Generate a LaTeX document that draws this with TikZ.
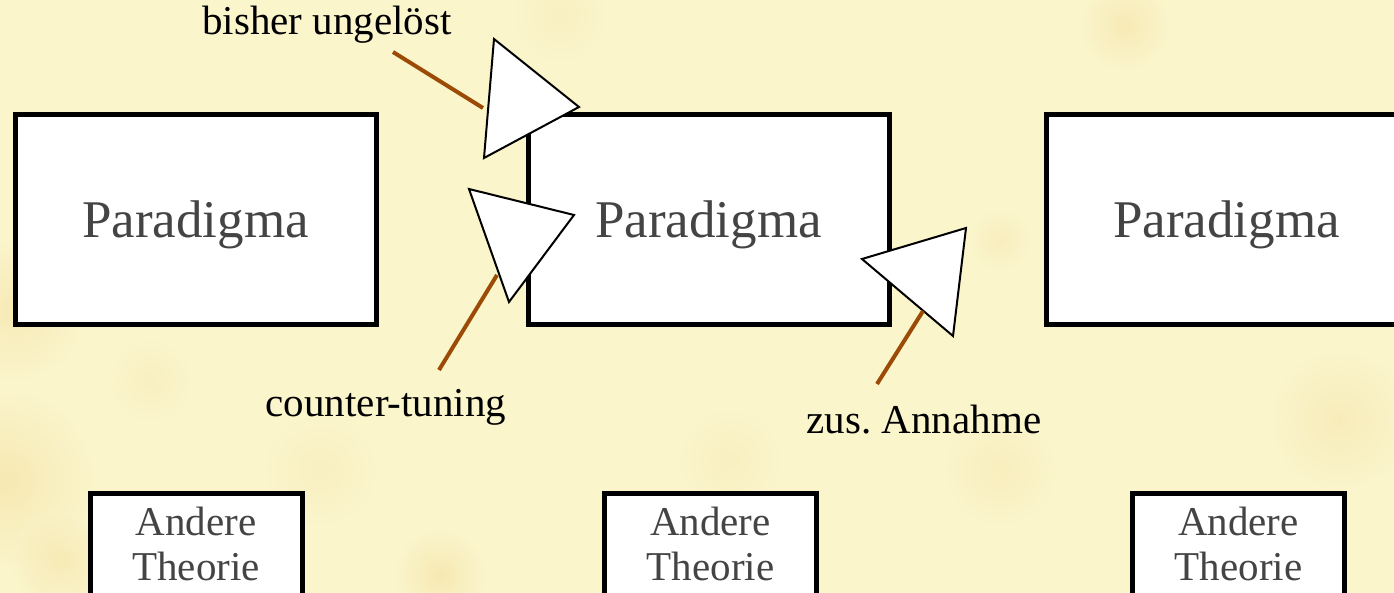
\documentclass[tikz,border=0pt]{standalone}
\usepackage{fontspec}
\setmainfont{Liberation Serif}
\frenchspacing
\definecolor{parch}{RGB}{251,245,204}
\definecolor{spot}{RGB}{238,210,130}
\definecolor{brownline}{RGB}{155,75,5}
\definecolor{boxtext}{RGB}{68,68,68}
\tikzset{
  parabox/.style={draw=black, line width=5pt, fill=white, minimum width=361pt, minimum height=210pt, inner sep=0pt, text=boxtext, font=\fontsize{53}{58}\selectfont},
  otherbox/.style={draw=black, line width=5pt, fill=white, minimum width=212pt, minimum height=140pt, inner sep=0pt},
  othertext/.style={text=boxtext, font=\fontsize{41}{45}\selectfont, align=center, anchor=north, inner sep=0pt},
  tri/.style={draw=black, line width=2pt, fill=white, line join=miter},
  lbl/.style={text=black, font=\fontsize{41}{45}\selectfont, inner sep=0pt},
  pointer/.style={draw=brownline, line width=4pt}
}
\begin{document}
\begin{tikzpicture}[x=1pt,y=-1pt]
\useasboundingbox (0,0) rectangle (1394,593);
\clip (0,0) rectangle (1394,593);
\fill[parch] (0,0) rectangle (1394,593);
% parchment blotches
\foreach \px/\py/\r/\o in {15/310/70/0.3, 5/480/90/0.35, 60/560/50/0.3, 440/575/45/0.35, 1125/25/45/0.3, 1000/470/55/0.2, 730/460/50/0.15, 320/470/55/0.15, 1340/420/70/0.25, 560/15/45/0.15, 1260/570/55/0.25, 1000/240/30/0.2, 150/380/40/0.15, 1380/150/40/0.2}{
  \shade[inner color=spot, outer color=parch, opacity=\o] (\px,\py) circle (\r);
}
% main boxes
\node[parabox] (p1) at (195.5,220) {\raisebox{-5pt}[\height][\depth]{Paradigma}};
\node[parabox] (p2) at (708.5,220) {\raisebox{-5pt}[\height][\depth]{Paradigma}};
\node[parabox] (p3) at (1226.5,220) {\raisebox{-5pt}[\height][\depth]{Paradigma}};
% other theories
\node[otherbox, anchor=north] (a1) at (196,491) {};
\node[otherbox, anchor=north] (a2) at (710.5,491) {};
\node[otherbox, anchor=north] (a3) at (1238.5,491) {};
\node[othertext] (t1) at (a1.north) [yshift=-16pt] {Andere\\Theorie};
\node[othertext] (t2) at (a2.north) [yshift=-16pt] {Andere\\Theorie};
\node[othertext] (t3) at (a3.north) [yshift=-16pt] {Andere\\Theorie};
% triangles
\draw[tri] (494,39) -- (579,107) -- (484,158) -- cycle;
\draw[tri] (469,189) -- (574,215) -- (509,302) -- cycle;
\draw[tri] (862,259) -- (966,228) -- (953,336) -- cycle;
% labels
\node[lbl] (l1) at (327,25) {bisher ungelöst};
\node[lbl] (l2) at (386,407) {counter-tuning};
\node[lbl] (l3) at (924,420) {zus. Annahme};
% pointer ends
\coordinate (s1) at (393,52);  \coordinate (e1) at (483,108);
\coordinate (s2) at (439,370); \coordinate (e2) at (497,275);
\coordinate (s3) at (877,384); \coordinate (e3) at (923,311);
\draw[pointer] (s1) -- (e1);
\draw[pointer] (s2) -- (e2);
\draw[pointer] (s3) -- (e3);
\end{tikzpicture}
\end{document}
